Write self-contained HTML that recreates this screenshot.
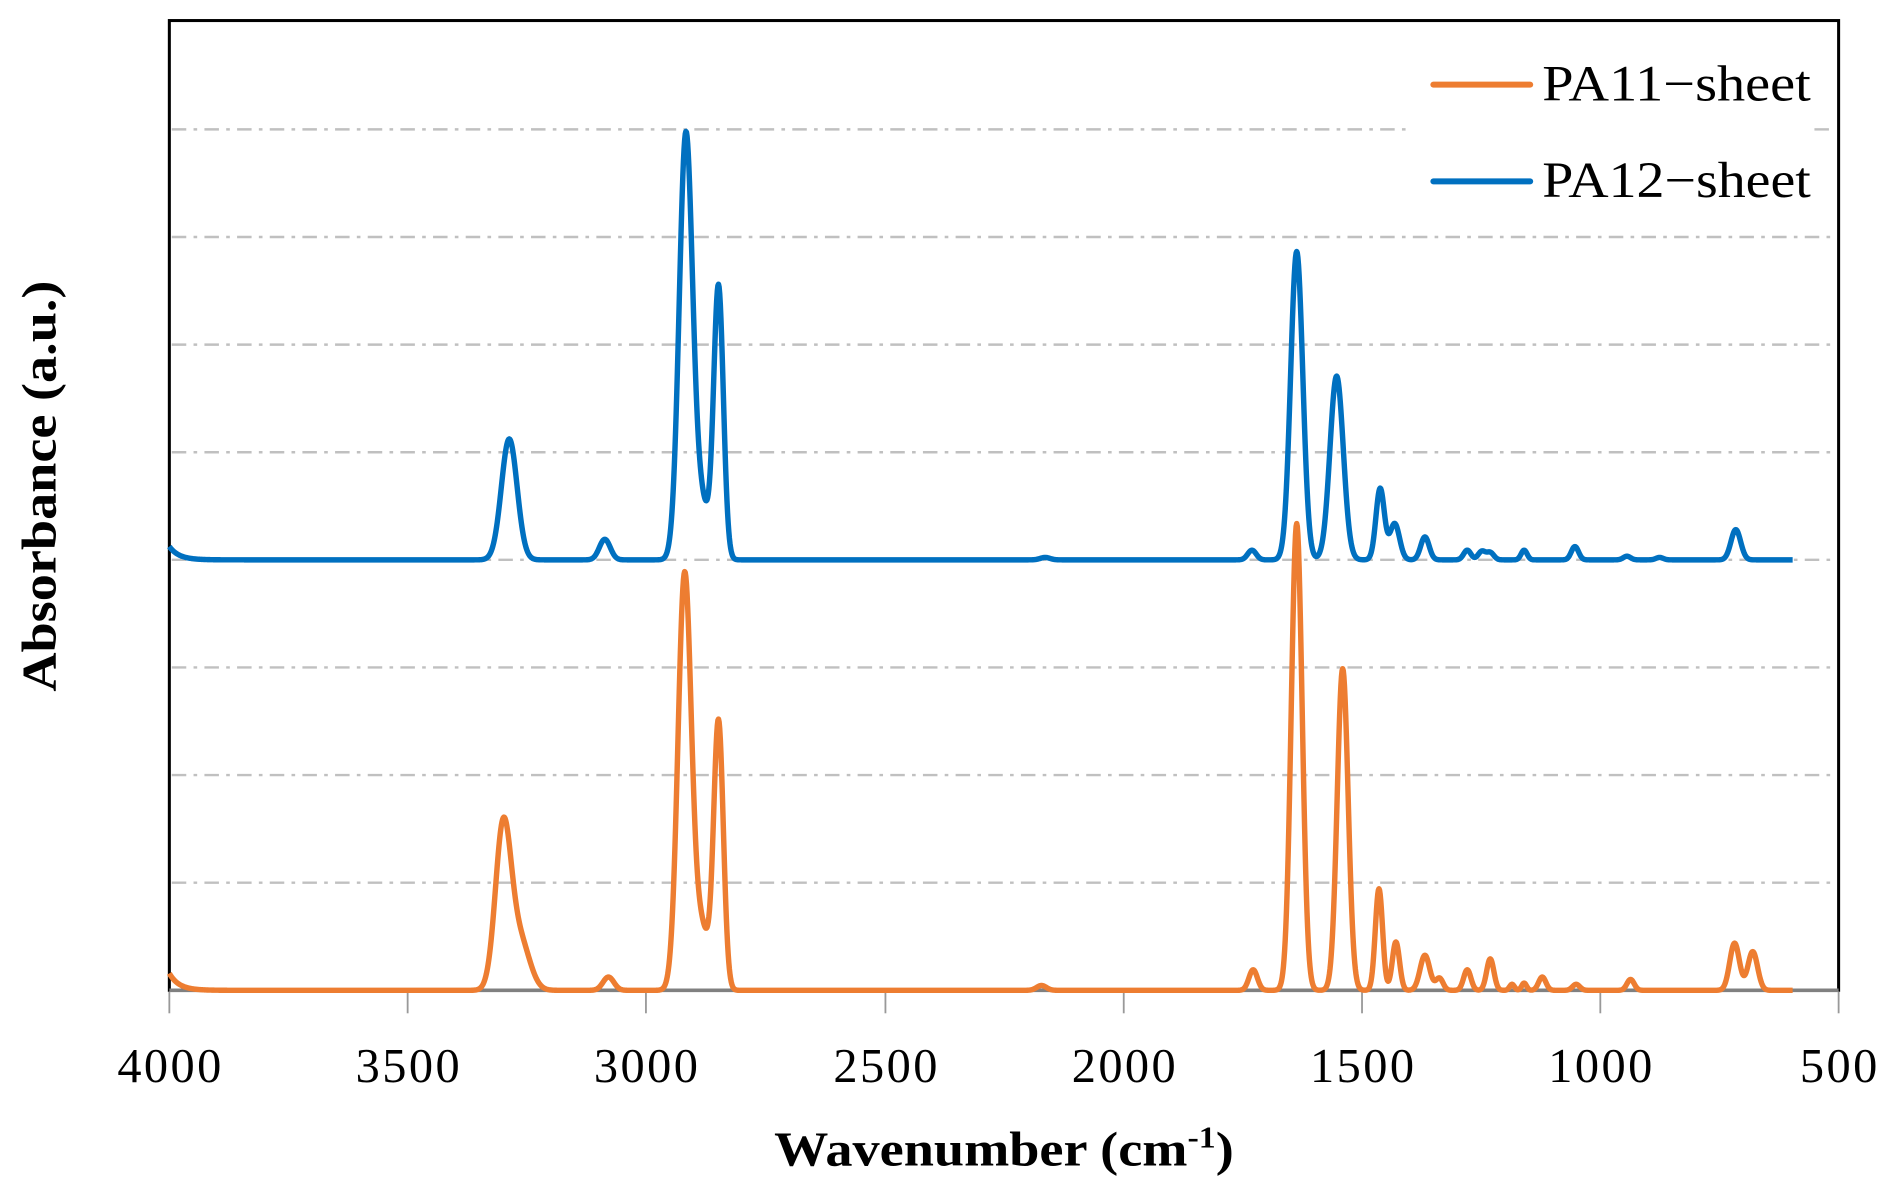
<!DOCTYPE html>
<html><head><meta charset="utf-8"><style>html,body{margin:0;padding:0;background:#fff}svg{display:block}</style></head>
<body>
<svg id="s" width="1887" height="1185" viewBox="0 0 1560 980" preserveAspectRatio="none" xmlns="http://www.w3.org/2000/svg" font-family="'Liberation Serif',serif">
<g stroke="#c0c0c0" stroke-width="2" stroke-dasharray="12,6,3,6">
<line x1="142" y1="107" x2="1165" y2="107"/><line x1="1500" y1="107" x2="1518" y2="107"/>
<line x1="142" y1="196" x2="1518" y2="196"/>
<line x1="142" y1="285" x2="1518" y2="285"/>
<line x1="142" y1="374" x2="1518" y2="374"/>
<line x1="142" y1="463" x2="1518" y2="463"/>
<line x1="142" y1="552" x2="1518" y2="552"/>
<line x1="142" y1="641" x2="1518" y2="641"/>
<line x1="142" y1="730" x2="1518" y2="730"/>
</g>
<rect x="140" y="17" width="1380" height="802" fill="none" stroke="#000" stroke-width="2.5"/>
<line x1="140" y1="819" x2="1520" y2="819" stroke="#808080" stroke-width="3"/>
<g stroke="#999" stroke-width="1.5" id="ticks"></g>
<path id="pb" fill="none" stroke="#0070C0" stroke-width="4.5" stroke-linejoin="round"/>
<path id="po" fill="none" stroke="#ED7D31" stroke-width="4.5" stroke-linejoin="round"/>
<g font-size="40" text-anchor="middle" fill="#000">
<text x="140" y="895" textLength="86">4000</text><text x="337" y="895" textLength="86">3500</text><text x="534" y="895" textLength="86">3000</text><text x="732" y="895" textLength="86">2500</text><text x="929" y="895" textLength="86">2000</text><text x="1126" y="895" textLength="86">1500</text><text x="1323" y="895" textLength="86">1000</text><text x="1520" y="895" textLength="64">500</text>
</g>
<text x="640" y="964" font-size="40" font-weight="bold" textLength="380" lengthAdjust="spacingAndGlyphs">Wavenumber (cm<tspan dy="-15" font-size="25">-1</tspan><tspan dy="15">)</tspan></text>
<text transform="translate(46,402) rotate(-90)" font-size="40" font-weight="bold" text-anchor="middle" textLength="340" lengthAdjust="spacingAndGlyphs">Absorbance (a.u.)</text>
<line x1="1185" y1="70" x2="1265" y2="70" stroke="#ED7D31" stroke-width="5" stroke-linecap="round"/>
<text x="1275" y="83" font-size="42" textLength="222" lengthAdjust="spacingAndGlyphs">PA11−sheet</text>
<line x1="1185" y1="150" x2="1265" y2="150" stroke="#0070C0" stroke-width="5" stroke-linecap="round"/>
<text x="1275" y="163" font-size="42" textLength="222" lengthAdjust="spacingAndGlyphs">PA12−sheet</text>
</svg>
<script>
var t=document.getElementById('ticks'),h='';
[140,337,534,732,929,1126,1323,1520].forEach(function(x){h+='<line x1="'+x+'" y1="820" x2="'+x+'" y2="838"/>';});
t.innerHTML=h;
function build(base,pk,st,end){var d='';for(var x=140;x<=end;x+=0.5){var y=base-st*Math.exp(-(x-140)/8);
for(var i=0;i<pk.length;i++){var p=pk[i];y-=p[1]*Math.exp(-(x-p[0])*(x-p[0])/(2*p[2]*p[2]));}
d+=(d?'L':'M')+x.toFixed(1)+' '+y.toFixed(2);}return d;}
var blue=[[421,100,6.5],[500,17,4.5],[567,350,5.5],[594,225,4],[580,45,6],[864,2,4],[1035,8,3.5],[1072,255,5],[1105,152,5.5],[1141,59,3.5],[1153,30,4],[1178,19,3.5],[1213,8,3],[1225,7,3],[1232,6,3],[1260,8,2.5],[1302,11,3],[1345,3,3],[1372,2,3],[1435,25,4]];
var orange=[[416,134,6.5],[430,40,8],[503,11,4.5],[566,343,5.5],[594,221,4],[580,50,6],[861,4,4],[1036,17,3.5],[1072,386,4.5],[1110,266,4.5],[1140,84,3],[1154,40,3],[1178,29,4],[1190,10,3],[1213,17,3],[1232,26,3],[1250,5,2],[1260,6,2],[1275,11,3],[1303,5,3],[1348,9,3],[1434,39,4],[1449,32,4]];
document.getElementById('pb').setAttribute('d',build(463,blue,11,1482));
document.getElementById('po').setAttribute('d',build(819,orange,14,1482));
</script>
</body></html>
